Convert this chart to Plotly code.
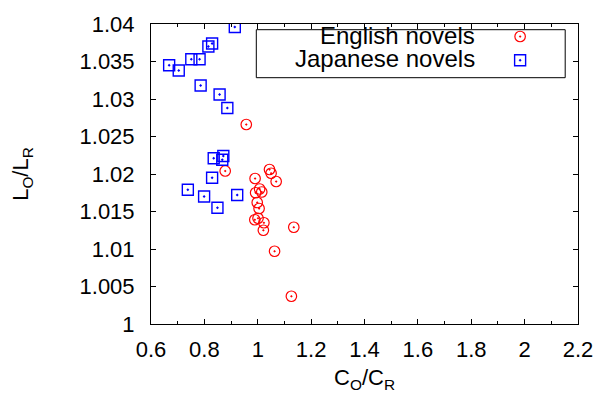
import plotly.graph_objects as go

# English novels: C_O/C_R and L_O/L_R
eng_x = [0.957, 0.878, 1.044, 1.050, 1.069, 0.990, 0.992, 1.007, 1.015, 0.998,
         1.005, 0.989, 1.001, 1.023, 1.021, 1.135, 1.063, 1.126]
eng_y = [1.0266, 1.0204, 1.0206, 1.0201, 1.0190, 1.0194, 1.0175, 1.0180, 1.0176, 1.0162,
         1.0154, 1.0139, 1.0141, 1.0135, 1.0125, 1.0129, 1.0097, 1.0037]

# Japanese novels
jap_x = [0.914, 0.829, 0.815, 0.751, 0.782, 0.668, 0.704, 0.786, 0.857, 0.886,
         0.835, 0.871, 0.867, 0.829, 0.738, 0.799, 0.849, 0.923]
jap_y = [1.0396, 1.0374, 1.0370, 1.0353, 1.0353, 1.0345, 1.0338, 1.0318, 1.0306, 1.0288,
         1.0221, 1.0224, 1.0219, 1.0195, 1.0179, 1.0170, 1.0155, 1.0172]

series_names = ["English novels", "Japanese novels"]

x_ticks = [0.6, 0.8, 1.0, 1.2, 1.4, 1.6, 1.8, 2.0, 2.2]
x_tick_labels = ["0.6", "0.8", "1", "1.2", "1.4", "1.6", "1.8", "2", "2.2"]
y_ticks = [1.0, 1.005, 1.01, 1.015, 1.02, 1.025, 1.03, 1.035, 1.04]
y_tick_labels = ["1", "1.005", "1.01", "1.015", "1.02", "1.025", "1.03", "1.035", "1.04"]

FONT = "Liberation Sans, Arial, sans-serif"

fig = go.Figure()
fig.add_trace(go.Scatter(
    x=eng_x, y=eng_y, mode="markers", name=" ",
    marker=dict(symbol="circle-open-dot", size=10.5, color="#ff0000",
                line=dict(width=1.2, color="#ff0000")),
))
fig.add_trace(go.Scatter(
    x=jap_x, y=jap_y, mode="markers", name=" ",
    marker=dict(symbol="square-open-dot", size=11, color="#0000ff",
                line=dict(width=1.4, color="#0000ff")),
))

axis_common = dict(
    showgrid=False, zeroline=False, showline=True, linecolor="black", linewidth=1,
    mirror="ticks", ticks="inside", ticklen=5, tickcolor="black", tickwidth=1,
    tickfont=dict(family=FONT, size=22, color="black"),
)

fig.update_xaxes(
    range=[0.6, 2.2], tickvals=x_ticks, ticktext=x_tick_labels,
    minor=dict(ticks="inside", ticklen=3, dtick=0.1, tickcolor="black"),
    title=dict(text="C<sub>O</sub>/C<sub>R</sub>", font=dict(family=FONT, size=22, color="black"), standoff=8),
    ticklabelstandoff=6,
    **axis_common,
)
fig.update_yaxes(
    range=[1.0, 1.04], tickvals=y_ticks, ticktext=y_tick_labels,
    title=dict(text="L<sub>O</sub>/L<sub>R</sub>", font=dict(family=FONT, size=22, color="black"), standoff=44),
    ticklabelstandoff=11,
    **axis_common,
)

# legend box and labels (gnuplot style: text right-aligned, symbol on the right)
fig.add_shape(type="rect", xref="paper", yref="paper", x0=0.2466, x1=0.970, y0=0.821, y1=0.981,
              line=dict(color="black", width=1), fillcolor="white", layer="below")
fig.add_annotation(xref="paper", yref="paper", x=0.763, y=0.962, xanchor="right", yanchor="middle",
                   text=series_names[0], showarrow=False, font=dict(family=FONT, size=24, color="black"))
fig.add_annotation(xref="paper", yref="paper", x=0.763, y=0.884, xanchor="right", yanchor="middle",
                   text=series_names[1], showarrow=False, font=dict(family=FONT, size=24, color="black"))

fig.update_layout(
    width=605, height=398,
    margin=dict(l=151, r=23, t=18, b=74),
    paper_bgcolor="white", plot_bgcolor="white",
    showlegend=True,
    legend=dict(x=0.8176, y=1.0147, xanchor="left", yanchor="top", bgcolor="rgba(0,0,0,0)",
                borderwidth=0, font=dict(family=FONT, size=16), tracegroupgap=0),
)

fig.write_html("out.html", config={"displayModeBar": False},
               post_script="document.body.style.margin='0';")
